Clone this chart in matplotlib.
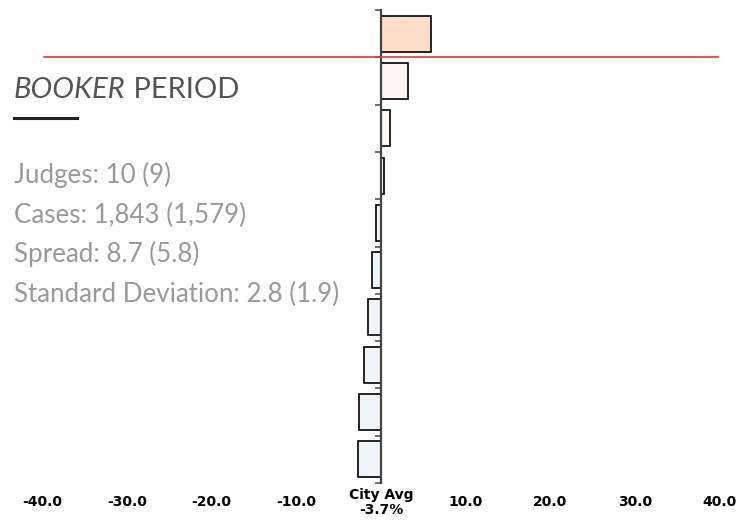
import matplotlib.pyplot as plt
import numpy as np

# deviation from city average (percentage points), top to bottom
deviations = [5.9, 3.15, 1.1, 0.3, -0.55, -1.1, -1.5, -2.0, -2.6, -2.7]
bar_colors = ['#fddcc8', '#fff6f1', '#fff8f4', '#fffaf7',
              '#f1f6fa', '#f1f6fa', '#f0f5f9', '#f0f5f9', '#f0f5f9', '#f0f5f9']
tick_values = [-40, -30, -20, -10, 0, 10, 20, 30, 40]
tick_labels = ['-40.0', '-30.0', '-20.0', '-10.0', 'City Avg\n-3.7%',
               '10.0', '20.0', '30.0', '40.0']
stats = ['Judges: 10 (9)', 'Cases: 1,843 (1,579)', 'Spread: 8.7 (5.8)',
         'Standard Deviation: 2.8 (1.9)']

W, H = 748, 529
fig = plt.figure(figsize=(W / 100, H / 100), dpi=100)

# axes: city avg at x=381px, 10 units = 84.75px
px_per_unit = 8.475
ax = fig.add_axes([0, 1 - 483 / H, 1, (483 - 10) / H])
ax.set_xlim(-381 / px_per_unit, (W - 381) / px_per_unit)
ax.set_ylim(len(deviations) - 0.5, -0.5)

y = np.arange(len(deviations))
ax.barh(y, deviations, height=0.76, color=bar_colors, edgecolor='black',
        linewidth=1.2, zorder=2)

for s in ['top', 'right', 'bottom']:
    ax.spines[s].set_visible(False)
ax.spines['left'].set_position(('data', 0))
ax.spines['left'].set_color('#444444')
ax.spines['left'].set_linewidth(1.6)
ax.spines['left'].set_zorder(3)

ax.set_yticks(np.arange(-0.5, len(deviations), 1))
ax.set_yticklabels([])
ax.tick_params(axis='y', length=4, width=1.2, color='#555555')

ax.set_xticks(tick_values)
ax.set_xticklabels(tick_labels, fontweight='bold', fontsize=10,
                   family='DejaVu Sans', linespacing=1.1, va='center')
ax.tick_params(axis='x', length=0, pad=14)

# red reference line
fig.add_artist(plt.Line2D([44 / W, 718 / W], [1 - 57 / H, 1 - 57 / H],
                          color='#f03030', linewidth=1.2))

# title block
t1 = fig.text(14 / W, 1 - 98 / H, 'BOOKER', fontsize=21, style='italic',
              family='Lato', color='#555555', va='baseline')
ax.annotate(' PERIOD', xy=(1, 0), xycoords=t1, va='bottom', ha='left',
            fontsize=21, family='Lato', color='#555555', annotation_clip=False)
fig.add_artist(plt.Line2D([14 / W, 77 / W], [1 - 118 / H, 1 - 118 / H],
                          color='#222222', linewidth=2.2))

baselines = [182.7, 222.7, 261.7, 301.7]
for txt, yb in zip(stats, baselines):
    fig.text(14 / W, 1 - yb / H, txt, fontsize=18.6, family='Lato',
             color='#999999', va='baseline')

fig.savefig('out.png', dpi=100)
